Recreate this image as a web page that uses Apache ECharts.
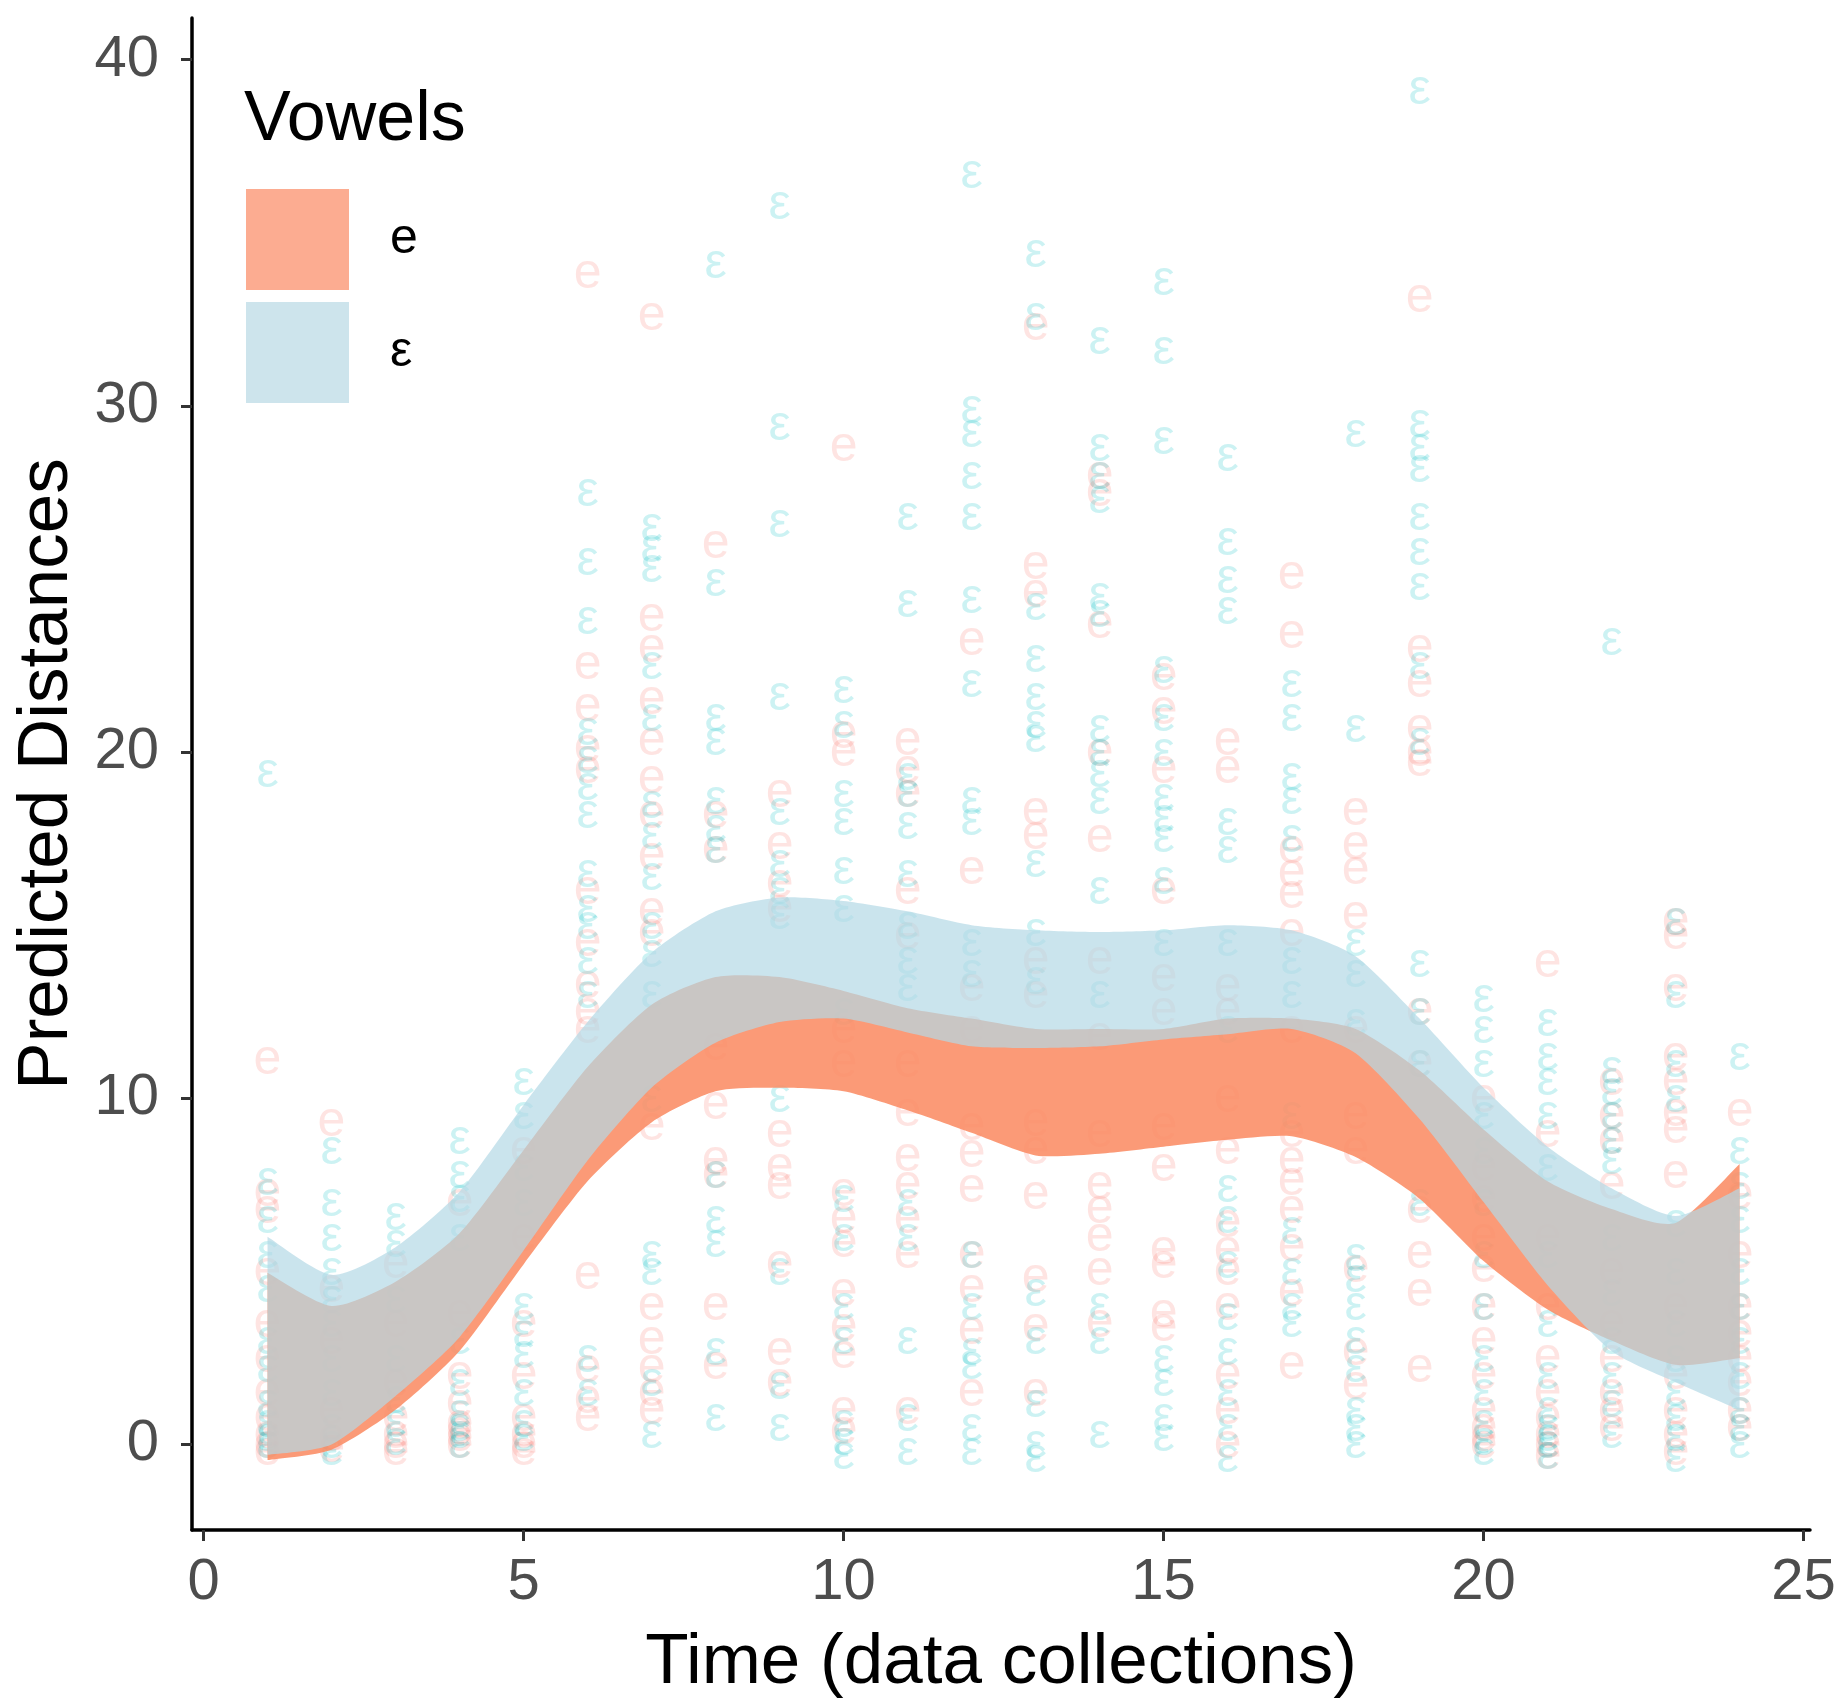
<!DOCTYPE html>
<html>
<head>
<meta charset="utf-8">
<script src="https://cdn.jsdelivr.net/npm/echarts@6/dist/echarts.min.js"></script>
<style>
html,body{margin:0;padding:0;background:#fff;}
#chart{width:1843px;height:1707px;}
</style>
</head>
<body>
<div id="chart"></div>
<script>
// ---- data ----
const time = [1,2,3,4,5,6,7,8,9,10,11,12,13,14,15,16,17,18,19,20,21,22,23,24];
const xTicks = [0,5,10,15,20,25];
const yTicks = [0,10,20,30,40];

// predicted ribbons (lower / upper) for each vowel
const eLower   = [-0.45,-0.15,1.0,2.7,5.2,7.6,9.3,10.2,10.3,10.2,9.65,9.0,8.35,8.4,8.6,8.8,8.9,8.3,7.1,5.3,3.9,3.0,2.3,2.5];
const eUpper   = [4.96,4.0,4.7,6.1,8.5,10.9,12.7,13.5,13.5,13.1,12.6,12.3,12.0,12.0,12.0,12.3,12.3,12.0,10.8,9.1,7.6,6.8,6.4,8.1];
const epsLower = [-0.3,0.0,1.4,3.1,5.6,8.2,10.3,11.6,12.2,12.3,11.9,11.5,11.45,11.5,11.7,11.85,12.0,11.3,9.4,7.0,4.6,2.7,1.8,1.0];
const epsUpper = [6.0,4.9,5.7,7.3,9.8,12.2,14.2,15.4,15.8,15.7,15.4,15.0,14.85,14.8,14.85,15.0,14.85,14.1,12.3,10.3,8.6,7.4,6.6,7.4];

// observed distances per data collection (index = time - 1)
const ePoints = [
  [11.1,7.3,6.8,5.0,3.5,2.5,1.5,0.8,0.3,0.0,-0.2],
  [9.3,4.5,3.0,1.0,0.2,-0.1],
  [5.2,3.5,1.8,0.8,0.3,0.0,-0.2],
  [7.0,3.8,2.0,1.2,0.6,0.4,0.2,0.0],
  [8.5,6.0,3.5,2.0,0.8,0.3,0.0,-0.2],
  [33.8,22.5,21.3,20.1,19.5,16.0,14.5,13.3,12.5,12.0,4.9,2.2,1.3,0.8],
  [32.6,23.9,23.0,21.5,20.3,19.2,18.2,17.0,15.4,14.8,9.2,4.0,3.0,2.2,1.5,1.0],
  [26.0,18.2,17.2,11.5,9.8,8.2,7.8,4.0,2.3],
  [18.8,17.3,16.2,15.5,9.0,8.0,7.5,5.2,2.7,1.8],
  [28.8,20.5,20.0,12.0,11.0,7.3,6.5,5.8,4.4,3.4,2.6,1.0,0.4],
  [20.3,19.5,18.8,16.0,14.7,11.0,9.6,8.3,7.5,6.5,5.5,1.0],
  [23.2,16.6,13.2,12.0,9.2,8.4,7.4,5.5,4.5,3.3,1.5],
  [32.3,25.4,24.6,18.3,17.6,14.0,13.0,9.3,8.5,7.2,4.8,3.4,1.5],
  [28.0,27.5,23.7,20.0,17.5,14.0,11.8,9.0,7.5,6.8,6.0,5.0,3.5],
  [22.2,21.2,19.5,16.0,13.5,12.5,9.2,8.0,5.6,5.2,3.8,3.4],
  [20.3,19.5,13.2,12.5,10.0,8.5,6.4,5.6,5.0,4.0,2.0,1.0,0.0],
  [25.1,23.4,17.2,16.5,15.9,14.8,12.0,9.0,8.2,7.6,6.8,5.7,4.4,2.3],
  [18.3,17.3,16.6,15.3,12.0,9.5,8.5,5.1,2.7,1.7],
  [33.1,23.0,22.0,20.7,20.0,19.7,12.5,11.0,6.8,5.5,4.4,2.2],
  [10.0,8.0,7.1,6.0,5.1,4.0,3.0,2.0,1.0,0.5,0.2,0.0],
  [13.9,9.0,6.0,4.0,2.5,1.5,0.8,0.3,0.0,-0.3],
  [10.5,9.5,8.8,7.5,5.0,3.5,2.5,1.5,1.0,0.5],
  [15.1,14.7,13.2,11.2,10.5,9.6,9.1,7.8,4.0,2.0,1.0,0.3,-0.2],
  [9.6,7.2,5.5,4.0,3.2,2.5,1.8,1.0,0.5]
];
const epsPoints = [
  [19.4,7.6,6.5,5.5,4.5,3.0,2.2,1.2,0.6,0.2,0.0],
  [8.5,7.0,6.0,5.0,4.2,3.5,2.5,1.5,0.5,0.0,-0.2],
  [6.6,5.8,4.2,2.5,1.3,0.6,0.1],
  [8.8,7.8,7.1,6.0,3.0,1.8,0.9,0.5,0.3,0.0],
  [10.5,9.5,8.0,7.0,4.0,3.2,2.6,1.5,0.6,0.2],
  [27.5,25.5,23.8,20.6,19.8,19.0,18.2,16.5,15.5,15.0,14.0,13.0,2.5,1.5],
  [26.5,25.9,25.3,22.5,21.0,18.5,17.6,16.4,15.0,14.2,13.0,10.0,5.5,5.0,1.8,0.3],
  [34.1,24.9,21.0,20.3,18.6,17.8,17.2,7.8,6.5,5.8,2.7,0.8],
  [35.8,29.4,26.6,21.6,18.3,16.8,16.0,15.3,10.0,5.0,1.7,0.5],
  [21.8,20.8,18.8,18.0,16.6,15.5,12.5,7.1,6.0,4.0,3.0,0.6,0.1,-0.3],
  [26.8,24.3,19.3,18.8,17.9,16.5,15.0,14.0,13.2,7.0,6.0,3.0,0.8,-0.2],
  [36.7,29.9,29.2,28.0,26.8,24.4,22.0,18.6,18.0,14.5,13.6,5.5,4.0,2.7,2.3,0.5,-0.2],
  [34.4,32.6,24.2,22.7,21.6,20.8,20.4,16.8,14.8,13.4,4.4,3.0,1.2,0.0,-0.4],
  [31.9,28.8,28.0,27.3,24.5,24.0,20.7,20.0,19.4,18.6,16.0,13.0,4.0,3.0,0.3],
  [33.6,31.6,29.0,22.4,21.0,20.0,18.7,18.1,17.5,16.3,14.5,2.5,1.8,0.8,0.2],
  [28.5,26.1,25.0,24.1,18.0,17.2,14.5,12.0,7.4,6.5,5.2,3.7,2.7,1.5,0.5,-0.4],
  [22.0,21.0,19.3,18.6,17.5,14.0,13.0,9.5,6.2,5.0,4.0,3.5],
  [29.2,20.7,14.5,13.6,12.2,5.4,4.8,4.0,3.0,2.2,1.0,0.5,0.0],
  [39.1,29.5,28.8,28.2,26.8,25.8,24.8,22.5,20.3,13.9,12.5,11.0,7.0],
  [12.9,12.0,11.0,9.5,8.5,7.0,5.5,4.0,2.5,1.5,0.6,0.1,-0.2],
  [12.2,11.2,10.5,9.5,8.0,5.5,3.5,2.0,1.0,0.5,0.2,0.0,-0.3],
  [23.2,10.8,10.2,9.5,8.8,8.2,6.0,4.4,3.0,2.0,1.2,0.3],
  [15.1,13.0,11.0,10.0,6.4,5.0,3.5,2.5,1.5,0.8,0.2,-0.4],
  [11.2,8.5,7.5,6.5,5.0,4.0,3.0,2.0,1.0,0.5,0.0]
];

// ---- build ----
const FONT = '"Liberation Sans", Arial, Helvetica, sans-serif';
const TENSION = 0.7; // curve tension for ribbon edges (0 = straight segments)

function flatten(points) {
  const out = [];
  points.forEach((vals, i) => vals.forEach(v => out.push([time[i], v])));
  return out;
}

function glyphSeries(name, points, glyph, color) {
  return {
    type: 'scatter', name: name, z: 1, silent: true,
    data: flatten(points),
    symbol: 'circle', symbolSize: 1,
    itemStyle: { color: 'rgba(0,0,0,0)' },
    label: {
      show: true, position: 'inside', formatter: glyph,
      color: color, fontSize: 50, fontFamily: FONT
    },
    labelLayout: { hideOverlap: false },
    emphasis: { disabled: true }
  };
}

// curved path through pixel points (Catmull-Rom to cubic Bezier)
function curveTo(pts) {
  let d = '';
  for (let i = 0; i < pts.length - 1; i++) {
    const p0 = pts[Math.max(i - 1, 0)], p1 = pts[i], p2 = pts[i + 1], p3 = pts[Math.min(i + 2, pts.length - 1)];
    const c1 = [p1[0] + (p2[0] - p0[0]) / 6 * TENSION, p1[1] + (p2[1] - p0[1]) / 6 * TENSION];
    const c2 = [p2[0] - (p3[0] - p1[0]) / 6 * TENSION, p2[1] - (p3[1] - p1[1]) / 6 * TENSION];
    d += ' C' + c1[0] + ',' + c1[1] + ' ' + c2[0] + ',' + c2[1] + ' ' + p2[0] + ',' + p2[1];
  }
  return d;
}

function bandSeries(name, lower, upper, fill, z) {
  return {
    type: 'custom', name: name, z: z, silent: true,
    coordinateSystem: 'cartesian2d',
    itemStyle: { color: fill },
    data: time.map((t, i) => [t, lower[i], upper[i]]),
    encode: { x: 0, y: [1, 2] },
    renderItem: function (params, api) {
      if (params.dataIndex !== 0) return null;
      const up = time.map((t, i) => api.coord([t, upper[i]]));
      const lo = time.map((t, i) => api.coord([t, lower[i]])).reverse();
      let d = 'M' + up[0][0] + ',' + up[0][1] + curveTo(up);
      d += ' L' + lo[0][0] + ',' + lo[0][1] + curveTo(lo) + ' Z';
      return { type: 'path', shape: { pathData: d }, style: { fill: fill } };
    },
    clip: true
  };
}

const chart = echarts.init(document.getElementById('chart'), null, { renderer: 'canvas' });

chart.setOption({
  animation: false,
  backgroundColor: '#ffffff',
  grid: { left: 192, right: 33, top: 18, bottom: 177, containLabel: false },
  xAxis: {
    type: 'value', min: -0.18, max: 25.1,
    name: 'Time (data collections)', nameLocation: 'middle', nameGap: 98,
    nameTextStyle: { fontSize: 71, color: '#000', fontFamily: FONT },
    splitLine: { show: false },
    axisLine: { show: true, onZero: false, lineStyle: { color: '#000', width: 3.5 } },
    axisTick: { show: true, length: 11, lineStyle: { color: '#333', width: 3 }, customValues: xTicks },
    axisLabel: { fontSize: 58, color: '#4d4d4d', margin: 24, fontFamily: FONT, customValues: xTicks }
  },
  yAxis: {
    type: 'value', min: -2.47, max: 41.2,
    name: 'Predicted Distances', nameLocation: 'middle', nameGap: 109, nameRotate: 90,
    nameTextStyle: { fontSize: 71, color: '#000', fontFamily: FONT },
    splitLine: { show: false },
    axisLine: { show: true, onZero: false, lineStyle: { color: '#000', width: 3.5 } },
    axisTick: { show: true, length: 11, lineStyle: { color: '#333', width: 3 }, customValues: yTicks },
    axisLabel: { fontSize: 58, color: '#4d4d4d', margin: 33, fontFamily: FONT, customValues: yTicks }
  },
  legend: {
    orient: 'vertical', left: 241, top: 184,
    itemWidth: 103, itemHeight: 101, itemGap: 12,
    icon: 'rect', selectedMode: false,
    textStyle: { fontSize: 50, color: '#000', fontFamily: FONT, padding: [0, 0, 0, 36] },
    data: [
      { name: 'e', itemStyle: { color: 'rgb(252,172,145)' } },
      { name: 'ε', itemStyle: { color: 'rgb(205,228,236)' } }
    ]
  },
  graphic: [{
    type: 'text', left: 244, top: 86, silent: true,
    style: { text: 'Vowels', fontSize: 70, fill: '#000', fontFamily: FONT }
  }],
  series: [
    glyphSeries('e points', ePoints, 'e', 'rgba(248,118,109,0.25)'),
    glyphSeries('ε points', epsPoints, 'ε', 'rgba(0,191,196,0.25)'),
    bandSeries('e', eLower, eUpper, 'rgba(250,140,100,0.88)', 3),
    bandSeries('ε', epsLower, epsUpper, 'rgba(180,216,229,0.70)', 4)
  ]
});
</script>
</body>
</html>
